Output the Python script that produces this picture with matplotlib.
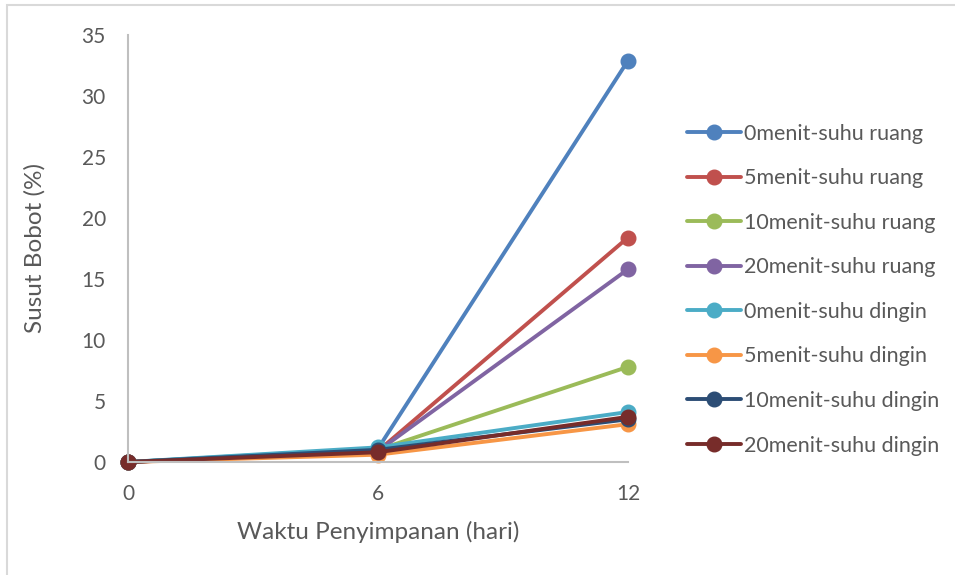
import matplotlib
matplotlib.use("Agg")
import matplotlib.pyplot as plt
from matplotlib.patches import Rectangle

plt.rcParams['font.family'] = ['Lato', 'DejaVu Sans']

# storage time (days) and weight loss (%) per treatment
days = ["0", "6", "12"]
labels = ["0menit-suhu ruang", "5menit-suhu ruang", "10menit-suhu ruang",
          "20menit-suhu ruang", "0menit-suhu dingin", "5menit-suhu dingin",
          "10menit-suhu dingin", "20menit-suhu dingin"]
s0_ruang = [0, 1.1, 32.9]
s5_ruang = [0, 0.9, 18.4]
s10_ruang = [0, 1.0, 7.8]
s20_ruang = [0, 0.9, 15.8]
s0_dingin = [0, 1.2, 4.1]
s5_dingin = [0, 0.6, 3.1]
s10_dingin = [0, 1.0, 3.5]
s20_dingin = [0, 0.8, 3.7]
series = [s0_ruang, s5_ruang, s10_ruang, s20_ruang,
          s0_dingin, s5_dingin, s10_dingin, s20_dingin]
colors = ["#4F81BD", "#C0504D", "#9BBB59", "#8064A2",
          "#4BACC6", "#F79646", "#2C4D75", "#772C2A"]

txt = "#595959"
W, H = 955, 575
fig = plt.figure(figsize=(W / 100, H / 100), dpi=100)

# chart frame
fig.patches.append(Rectangle((7 / W, -0.1), 1.2, (H - 5) / H + 0.1,
                             transform=fig.transFigure, fill=False,
                             edgecolor="#D9D9D9", lw=1.5))

ax = fig.add_axes([128 / W, (H - 462) / H, 500 / W, 427 / H])
x = list(range(len(days)))
for vals, lab, c in zip(series, labels, colors):
    ax.plot(x, vals, color=c, lw=2.8, marker="o", markersize=10.5,
            label=lab, clip_on=False, solid_capstyle="round")

ax.set_xlim(0, 2)
ax.set_ylim(0, 35)
ax.set_yticks(range(0, 36, 5))
ax.set_xticks(x)
ax.set_xticklabels(days)
ax.tick_params(length=0, labelsize=15, labelcolor=txt)
ax.tick_params(axis="y", pad=16)
ax.tick_params(axis="x", pad=16)
for side in ["top", "right"]:
    ax.spines[side].set_visible(False)
for side in ["left", "bottom"]:
    ax.spines[side].set_color("#BFBFBF")
    ax.spines[side].set_linewidth(1.5)

fig.text(35 / W, (H - 248) / H, "Susut Bobot (%)", rotation=90,
         ha="center", va="center", fontsize=17.5, color=txt)
fig.text(378 / W, (H - 532) / H, "Waktu Penyimpanan (hari)",
         ha="center", va="center", fontsize=17.5, color=txt)

leg = fig.legend(loc="upper left", bbox_to_anchor=(676 / W, (H - 113) / H),
                 frameon=False, fontsize=15.5, handlelength=2.5,
                 handletextpad=0.15, labelspacing=1.14, borderpad=0)
for t in leg.get_texts():
    t.set_color(txt)

fig.savefig("out.png", dpi=100)
